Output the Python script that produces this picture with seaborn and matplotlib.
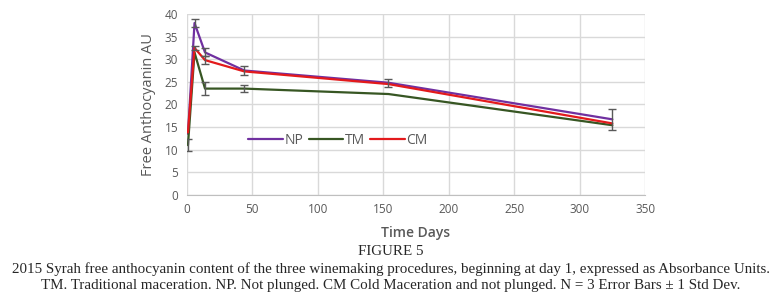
import numpy as np
import pandas as pd
import seaborn as sns
import matplotlib.pyplot as plt

# data
days = [1, 6, 14, 44, 154, 325]
np_vals = [13.5, 38.0, 31.5, 27.5, 24.8, 16.7]
tm_vals = [11.0, 31.5, 23.5, 23.5, 22.3, 15.4]
cm_vals = [13.8, 32.5, 29.8, 27.3, 24.5, 15.8]
np_err = [0.0, 0.8, 0.9, 1.0, 0.9, 2.3]
tm_err = [1.3, 0.0, 1.5, 0.7, 0.0, 0.0]
cm_err = [0.0, 0.5, 0.8, 0.0, 0.0, 0.0]
series = ['NP', 'TM', 'CM']
colors = {'NP': '#7030a0', 'TM': '#375623', 'CM': '#e31a1c'}

df = pd.DataFrame({
    'day': days * 3,
    'value': np_vals + tm_vals + cm_vals,
    'err': np_err + tm_err + cm_err,
    'series': sum([[s] * len(days) for s in series], []),
})

sns.set_style('white')
plt.rcParams['font.family'] = ['Open Sans', 'DejaVu Sans']

fig = plt.figure(figsize=(7.81, 3.04), dpi=100)
ax = fig.add_axes([0.239, 0.359, 0.587, 0.595])

sns.lineplot(data=df, x='day', y='value', hue='series', palette=colors,
             hue_order=series, linewidth=1.6, ax=ax, zorder=3)

# error bars (grey, capped)
for s in series:
    sub = df[(df['series'] == s) & (df['err'] > 0)]
    ax.errorbar(sub['day'], sub['value'], yerr=sub['err'], fmt='none',
                ecolor='#595959', elinewidth=1, capsize=3, capthick=1, zorder=4)

ax.set_xlim(0, 350)
ax.set_ylim(0, 40)
ax.set_xticks(range(0, 351, 50))
ax.set_yticks(range(0, 41, 5))
ax.grid(True, color='#d9d9d9', linewidth=1)
ax.set_axisbelow(True)
for side in ['top', 'right', 'left']:
    ax.spines[side].set_visible(False)
ax.spines['bottom'].set_color('#bfbfbf')
ax.tick_params(axis='both', length=0, labelsize=8.5, colors='#595959', pad=6)

ax.set_xlabel('Time Days', fontsize=10, color='#595959', fontweight='semibold', labelpad=7)
ax.set_ylabel('Free Anthocyanin AU', fontsize=10.5, color='#595959', labelpad=6)

leg = ax.legend(loc='center', bbox_to_anchor=(0.33, 0.3), ncol=3, frameon=False,
                fontsize=10, handlelength=2.5, columnspacing=0.4, handletextpad=0.1,
                labelcolor='#595959')

serif = ['Liberation Serif', 'DejaVu Serif']
fig.text(0.5, 0.172, 'FIGURE 5', ha='center', va='center', fontsize=10.8, family=serif)
fig.text(0.5, 0.115, '2015 Syrah free anthocyanin content of the three winemaking procedures, '
         'beginning at day 1, expressed as Absorbance Units.',
         ha='center', va='center', fontsize=10.8, family=serif)
fig.text(0.5, 0.062, 'TM. Traditional maceration. NP. Not plunged. CM Cold Maceration and not plunged. '
         'N = 3 Error Bars \u00b1 1 Std Dev.',
         ha='center', va='center', fontsize=10.8, family=serif)

fig.savefig('out.png', dpi=100)
